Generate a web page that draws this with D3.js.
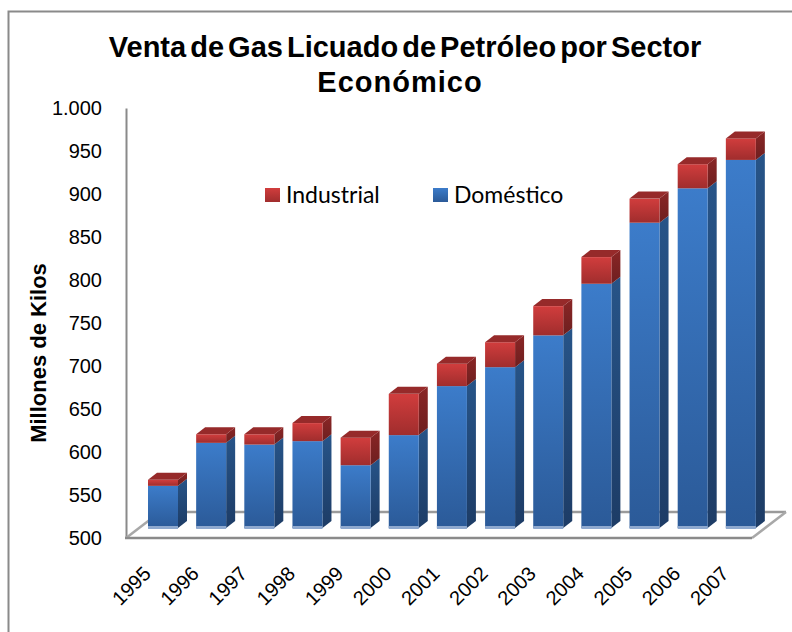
<!DOCTYPE html>
<html>
<head>
<meta charset="utf-8">
<script src="https://cdn.jsdelivr.net/npm/d3@7"></script>
<style>
  html, body { margin: 0; padding: 0; background: #fff; }
  text { font-family: "Liberation Sans", Arial, sans-serif; fill: #000; }
</style>
</head>
<body>
<script>
// data
var years = ["1995","1996","1997","1998","1999","2000","2001","2002","2003","2004","2005","2006","2007"];
var domestico = [549, 599, 597, 601, 573, 608, 665, 687, 724, 784, 855, 895, 928];
var industrial = [7, 10, 12, 21, 32, 48, 26, 29, 34, 31, 28, 28, 25];
var yTicks = [500, 550, 600, 650, 700, 750, 800, 850, 900, 950, 1000];

var width = 792, height = 632;
var svg = d3.select("body").append("svg")
    .attr("width", width)
    .attr("height", height)
    .style("display", "block");

var gray = "#8a8a8a";

// outer frame, its right and bottom edges fall outside the picture
svg.append("rect")
    .attr("x", 8.5).attr("y", 11.5)
    .attr("width", 800).attr("height", 640)
    .attr("fill", "none")
    .attr("stroke", gray)
    .attr("stroke-width", 2);

////////////////////////////
// Gradients
var defs = svg.append("defs");
function addGradient(id, top, bottom) {
    var g = defs.append("linearGradient").attr("id", id)
        .attr("x1", 0).attr("y1", 0).attr("x2", 0).attr("y2", 1);
    g.append("stop").attr("offset", "0%").attr("stop-color", top);
    g.append("stop").attr("offset", "100%").attr("stop-color", bottom);
}
addGradient("blueFront", "#3c7cca", "#2b5a98");
addGradient("blueSide", "#275488", "#1d3c66");
addGradient("redFront", "#d13d3d", "#a02d2d");
addGradient("redSide", "#8a2626", "#6e1f1f");

////////////////////////////
// Scales
var floorLeft = 126, floorRight = 752, floorY = 538, topY = 108;
var depthX = 34, depthY = 26;
var sideX = 9, sideY = 7;
var barWidth = 30;
var barShiftX = 22, barShiftY = 10;

var x = d3.scaleBand().domain(years).range([floorLeft, floorRight]);
var y = d3.scaleLinear().domain([500, 1000]).range([floorY, topY]);

////////////////////////////
// Floor and axis
var axisY = d3.axisLeft(y)
    .tickValues(yTicks)
    .tickSize(0)
    .tickPadding(24)
    .tickFormat(function(d) { return d3.format(",")(d).replace(",", "."); });

var yAxis = svg.append("g")
    .attr("transform", "translate(" + floorLeft + ",0)")
    .call(axisY);
yAxis.select(".domain").attr("stroke", gray).attr("stroke-width", 2);
yAxis.selectAll("text")
    .style("font-family", '"Liberation Sans", Arial, sans-serif')
    .style("font-size", "20px");

// back and side edges of the floor are paler than the front edge
var floorLines = [
    { a: [floorLeft, floorY], b: [floorLeft + depthX, floorY - depthY], c: "#a8a8a8", w: 2.5 },
    { a: [floorLeft + depthX, floorY - depthY], b: [floorRight + depthX, floorY - depthY], c: "#9a9a9a", w: 2.5 },
    { a: [floorRight, floorY], b: [floorRight + depthX, floorY - depthY], c: "#a8a8a8", w: 2.5 },
    { a: [floorLeft - 1, floorY], b: [floorRight, floorY], c: gray, w: 2.5 }
];
svg.selectAll("line.floor")
    .data(floorLines)
    .enter()
    .append("line")
    .attr("class", "floor")
    .attr("x1", function(d) { return d.a[0]; })
    .attr("y1", function(d) { return d.a[1]; })
    .attr("x2", function(d) { return d.b[0]; })
    .attr("y2", function(d) { return d.b[1]; })
    .attr("stroke", function(d) { return d.c; })
    .attr("stroke-width", function(d) { return d.w; });

////////////////////////////
// Bars
var stackData = years.map(function(d, i) {
    return { year: d, dom: domestico[i], ind: industrial[i] };
});

function barX(d) { return x(d.year) + barShiftX; }
function barY(v) { return y(v) - barShiftY; }

var bars = svg.selectAll("g.bar")
    .data(stackData)
    .enter()
    .append("g")
    .attr("class", "bar");

// Segment drawn as front, side and top faces
function drawSegment(sel, lowFn, highFn, frontFill, sideFill, topFill) {
    sel.append("polygon")
        .attr("fill", "url(#" + sideFill + ")")
        .attr("points", function(d) {
            var l = barX(d) + barWidth, b = barY(lowFn(d)), t = barY(highFn(d));
            return [[l, b], [l + sideX, b - sideY], [l + sideX, t - sideY], [l, t]].join(" ");
        });
    sel.append("rect")
        .attr("fill", "url(#" + frontFill + ")")
        .attr("x", barX)
        .attr("y", function(d) { return barY(highFn(d)); })
        .attr("width", barWidth)
        .attr("height", function(d) { return barY(lowFn(d)) - barY(highFn(d)); });
    if (topFill) {
        sel.append("polygon")
            .attr("fill", topFill)
            .attr("points", function(d) {
                var l = barX(d), t = barY(highFn(d));
                return [[l, t], [l + sideX, t - sideY], [l + barWidth + sideX, t - sideY], [l + barWidth, t]].join(" ");
            });
    }
}

drawSegment(bars,
    function() { return 500; },
    function(d) { return d.dom; },
    "blueFront", "blueSide", null);
drawSegment(bars,
    function(d) { return d.dom; },
    function(d) { return d.dom + d.ind; },
    "redFront", "redSide", "#962a2a");

// pale strip at the foot of each bar
bars.append("rect")
    .attr("x", barX)
    .attr("y", barY(500) - 2)
    .attr("width", barWidth)
    .attr("height", 3)
    .attr("fill", "#8fa9cf");

////////////////////////////
// Year labels
svg.selectAll("text.year")
    .data(years)
    .enter()
    .append("text")
    .attr("class", "year")
    .attr("text-anchor", "end")
    .attr("font-size", "20px")
    .attr("transform", function(d) {
        return "translate(" + (x(d) + 26) + ",575) rotate(-45)";
    })
    .text(function(d) { return d; });

////////////////////////////
// Titles
svg.append("text")
    .attr("x", 405).attr("y", 57)
    .attr("text-anchor", "middle")
    .attr("font-size", "29px")
    .attr("font-weight", "bold")
    .attr("word-spacing", "-4px")
    .text("Venta de Gas Licuado de Petróleo por Sector");
svg.append("text")
    .attr("x", 400).attr("y", 92)
    .attr("text-anchor", "middle")
    .attr("font-size", "29px")
    .attr("font-weight", "bold")
    .attr("letter-spacing", "1px")
    .text("Económico");

svg.append("text")
    .attr("transform", "translate(46,353) rotate(-90)")
    .attr("text-anchor", "middle")
    .attr("font-size", "22px")
    .attr("font-weight", "bold")
    .text("Millones de Kilos");

////////////////////////////
// Legend
var legendItems = [
    { label: "Industrial", fill: "redFront", x: 265 },
    { label: "Doméstico", fill: "blueFront", x: 433 }
];
var legend = svg.selectAll("g.legend")
    .data(legendItems)
    .enter()
    .append("g")
    .attr("class", "legend");
legend.append("rect")
    .attr("x", function(d) { return d.x; })
    .attr("y", 188)
    .attr("width", 15)
    .attr("height", 14)
    .attr("fill", function(d) { return "url(#" + d.fill + ")"; });
legend.append("text")
    .attr("x", function(d) { return d.x + 21; })
    .attr("y", 203)
    .style("font-family", "Lato, Carlito, sans-serif")
    .style("font-size", "23px")
    .text(function(d) { return d.label; });
</script>
</body>
</html>
